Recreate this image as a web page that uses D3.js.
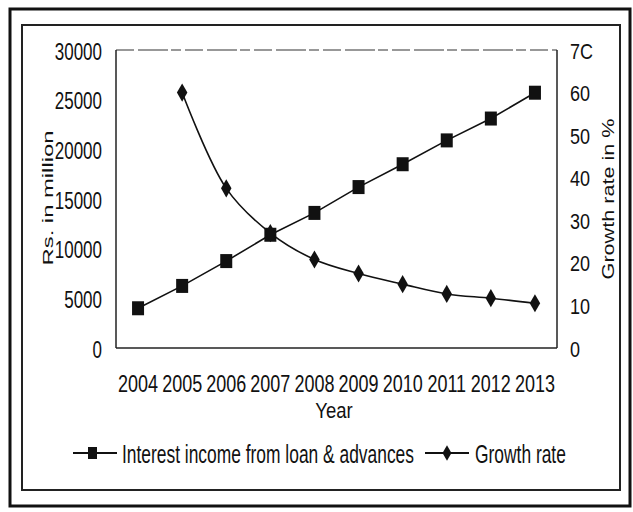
<!DOCTYPE html>
<html><head><meta charset="utf-8">
<script src="https://cdn.jsdelivr.net/npm/d3@7"></script>
<style>
body{margin:0;background:#fff;}
svg{display:block;}
text{font-family:"Liberation Sans",Arial,sans-serif;fill:#111;}
</style></head>
<body>
<script>
const years = ["2004","2005","2006","2007","2008","2009","2010","2011","2012","2013"];
const interestIncome = [4000, 6250, 8750, 11400, 13600, 16200, 18500, 20900, 23100, 25700];
const growthRate = [null, 60, 37.5, 27, 20.8, 17.5, 15, 12.7, 11.7, 10.5];
const leftTicks = [0, 5000, 10000, 15000, 20000, 25000, 30000];
const rightTicks = [0, 10, 20, 30, 40, 50, 60, 70];
const rightTickLabels = ["0","10","20","30","40","50","60","7C"];
const seriesNames = ["Interest income from loan & advances", "Growth rate"];

const W = 633, H = 512;
const m = {l:116, r:557, t:50, b:348};
const svg = d3.select("body").append("svg").attr("width", W).attr("height", H);

// frames
svg.append("rect").attr("x",10).attr("y",9).attr("width",620).attr("height",497)
  .attr("fill","none").attr("stroke","#111").attr("stroke-width",3);
svg.append("rect").attr("x",22).attr("y",25).attr("width",598).attr("height",465)
  .attr("fill","none").attr("stroke","#222").attr("stroke-width",2);

const x = d3.scaleBand().domain(years).range([m.l, m.r]);
const yL = d3.scaleLinear().domain([0,30000]).range([m.b, m.t]);
const yR = d3.scaleLinear().domain([0,70]).range([m.b, m.t]);

// plot box
svg.append("line").attr("x1",m.l).attr("x2",m.r).attr("y1",m.t).attr("y2",m.t)
  .attr("stroke","#777").attr("stroke-width",1.3).attr("stroke-dasharray","18,4,30,3,10,4");
svg.append("line").attr("x1",m.l).attr("x2",m.l).attr("y1",m.t).attr("y2",m.b).attr("stroke","#222").attr("stroke-width",1.5);
svg.append("line").attr("x1",m.r).attr("x2",m.r).attr("y1",m.t).attr("y2",m.b).attr("stroke","#222").attr("stroke-width",1.5);
svg.append("line").attr("x1",m.l).attr("x2",m.r).attr("y1",m.b).attr("y2",m.b).attr("stroke","#222").attr("stroke-width",1.6);

// axes (tall, narrow lettering via vertical scale)
const axL = svg.append("g").attr("transform",`translate(${m.l},0)`)
  .call(d3.axisLeft(yL).tickValues(leftTicks).tickSize(0).tickFormat(d3.format("d")));
const axR = svg.append("g").attr("transform",`translate(${m.r},0)`)
  .call(d3.axisRight(yR).tickValues(rightTicks).tickSize(0).tickFormat((d,i)=>rightTickLabels[i]));
const axB = svg.append("g").attr("transform",`translate(0,${m.b})`)
  .call(d3.axisBottom(x).tickSize(0));
[axL,axR,axB].forEach(a=>{
  a.select(".domain").remove();
  a.selectAll("text").attr("font-family",null).attr("fill","#111").attr("x",null).attr("y",null).attr("dy",null);
});
axL.selectAll("text").attr("font-size",17).attr("text-anchor","end")
  .attr("transform","translate(-14,9) scale(1,1.45)");
axR.selectAll("text").attr("font-size",18).attr("text-anchor","start")
  .attr("transform","translate(13,8) scale(1,1.25)");
axB.selectAll("text").attr("font-size",18).attr("text-anchor","middle")
  .attr("transform","translate(0,44) scale(1,1.3)");

// axis titles
svg.append("text").attr("transform",`translate(53,198) rotate(-90) scale(1.7,1)`)
  .attr("text-anchor","middle").attr("font-size",14).text("Rs. in million");
svg.append("text").attr("transform",`translate(614,199) rotate(-90) scale(1.35,1)`)
  .attr("text-anchor","middle").attr("font-size",16).text("Growth rate in %");
svg.append("text").attr("transform",`translate(334,418) scale(1,1.2)`)
  .attr("text-anchor","middle").attr("font-size",18.5).text("Year");

const cx = d => x(d) + x.bandwidth()/2;

// interest line
const lineL = d3.line().x((d,i)=>cx(years[i])).y(d=>yL(d));
svg.append("path").datum(interestIncome).attr("d",lineL).attr("fill","none").attr("stroke","#111").attr("stroke-width",1.6);
svg.selectAll(".sq").data(interestIncome).enter().append("rect")
  .attr("x",(d,i)=>cx(years[i])-6).attr("y",d=>yL(d)-7).attr("width",12).attr("height",14).attr("fill","#111");

// growth line
const lineR = d3.line().defined(d=>d!==null).x((d,i)=>cx(years[i])).y(d=>yR(d)).curve(d3.curveCatmullRom.alpha(0.5));
svg.append("path").datum(growthRate).attr("d",lineR).attr("fill","none").attr("stroke","#111").attr("stroke-width",1.6);
const diamond = d3.symbol().type(d3.symbolDiamond).size(95);
svg.selectAll(".dm").data(growthRate.map((v,i)=>({v,i})).filter(d=>d.v!==null)).enter().append("path")
  .attr("d",diamond).attr("transform",d=>`translate(${cx(years[d.i])},${yR(d.v)})`).attr("fill","#111");

// legend
const ly = 453;
const lg = svg.append("g");
lg.append("line").attr("x1",73).attr("x2",117).attr("y1",ly).attr("y2",ly).attr("stroke","#111").attr("stroke-width",2);
lg.append("rect").attr("x",88).attr("y",ly-6).attr("width",9).attr("height",12).attr("fill","#111");
lg.append("text").attr("transform","translate(122,463) scale(1,1.5)").attr("font-size",17.4).text(seriesNames[0]);
lg.append("line").attr("x1",425).attr("x2",469).attr("y1",ly).attr("y2",ly).attr("stroke","#111").attr("stroke-width",2);
lg.append("path").attr("d",d3.symbol().type(d3.symbolDiamond).size(70)).attr("transform",`translate(447,${ly})`).attr("fill","#111");
lg.append("text").attr("transform","translate(475,463) scale(1,1.5)").attr("font-size",17.4).text(seriesNames[1]);
</script>
</body></html>
